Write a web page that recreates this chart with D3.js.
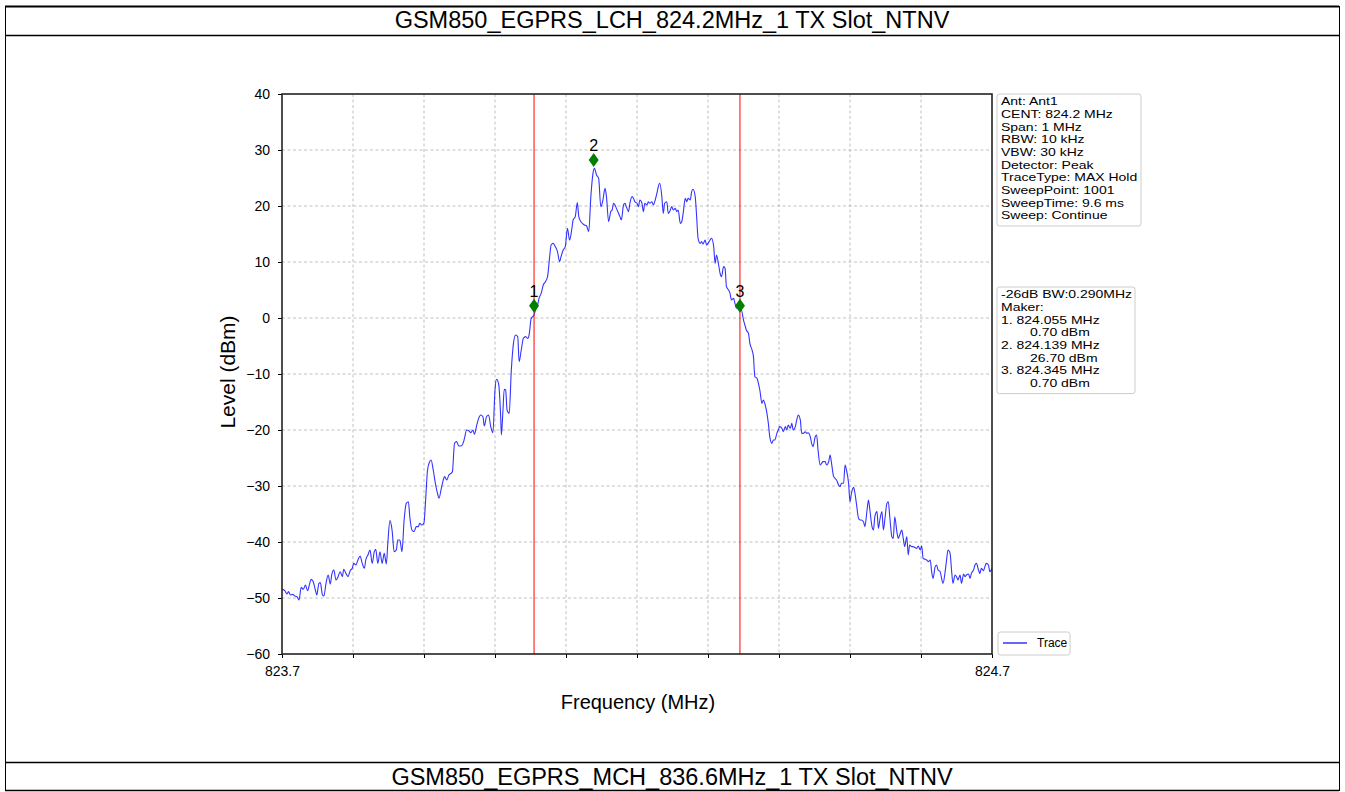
<!DOCTYPE html>
<html>
<head>
<meta charset="utf-8">
<script src="https://cdn.jsdelivr.net/npm/d3@7"></script>
<style>
  html, body { margin: 0; padding: 0; background: #fff; }
  svg { display: block; font-family: "Liberation Sans", Arial, sans-serif; }
</style>
</head>
<body>
<svg id="chart" width="1345" height="792"></svg>
<script>
// ---------------- DATA ----------------
const titleTop = "GSM850_EGPRS_LCH_824.2MHz_1 TX Slot_NTNV";
const titleBottom = "GSM850_EGPRS_MCH_836.6MHz_1 TX Slot_NTNV";

const xDomain = [823.7, 824.7];
const yDomain = [-60, 40];
const xTicks = [823.7, 823.8, 823.9, 824.0, 824.1, 824.2, 824.3, 824.4, 824.5, 824.6, 824.7];
const xTickLabels = ["823.7", "", "", "", "", "", "", "", "", "", "824.7"];
const yTicks = [-60, -50, -40, -30, -20, -10, 0, 10, 20, 30, 40];

const traceFreq = [
823.700,823.704,823.707,823.709,823.712,823.715,823.718,823.721,823.724,823.727,
823.730,823.733,823.736,823.739,823.741,823.744,823.747,823.749,823.752,823.754,
823.757,823.759,823.762,823.765,823.768,823.770,823.773,823.776,823.779,823.782,
823.785,823.787,823.790,823.793,823.796,823.799,823.801,823.804,823.807,823.810,
823.813,823.816,823.818,823.821,823.824,823.827,823.830,823.832,823.835,823.838,
823.841,823.844,823.847,823.849,823.852,823.855,823.858,823.861,823.863,823.866,
823.869,823.872,823.875,823.878,823.880,823.883,823.886,823.889,823.892,823.894,
823.897,823.900,823.902,823.905,823.908,823.910,823.913,823.916,823.919,823.921,
823.924,823.926,823.929,823.932,823.935,823.938,823.940,823.943,823.946,823.949,
823.952,823.955,823.957,823.960,823.963,823.966,823.969,823.971,823.974,823.977,
823.980,823.983,823.985,823.988,823.991,823.994,823.997,824.000,824.002,824.005,
824.008,824.009,824.011,824.013,824.015,824.017,824.020,824.023,824.026,824.029,
824.032,824.034,824.037,824.040,824.043,824.046,824.048,824.051,824.055,824.057,
824.060,824.062,824.065,824.068,824.071,824.074,824.077,824.079,824.082,824.085,
824.088,824.091,824.093,824.096,824.099,824.102,824.105,824.108,824.110,824.113,
824.116,824.118,824.121,824.124,824.126,824.129,824.132,824.135,824.138,824.140,
824.143,824.146,824.149,824.152,824.155,824.157,824.160,824.163,824.165,
824.167,824.169,824.171,824.174,824.176,824.178,824.181,824.183,824.185,824.188,
824.190,824.193,824.195,824.197,824.200,824.202,824.204,824.207,824.209,824.211,
824.214,824.216,824.218,824.221,824.223,824.225,824.228,824.230,824.232,824.235,
824.237,824.239,824.242,824.244,824.246,824.249,824.251,824.254,824.256,824.258,
824.261,824.263,824.265,824.268,824.270,824.272,824.275,824.277,824.279,824.282,
824.284,824.286,824.289,824.291,824.293,824.296,824.298,824.300,824.303,824.305,
824.308,824.310,824.312,824.315,824.317,824.319,824.322,824.324,824.326,824.329,
824.331,824.333,824.336,824.338,824.340,824.343,824.345,824.347,824.350,824.352,
824.354,824.357,824.359,824.362,824.364,824.366,824.369,824.371,824.373,824.376,
824.378,824.380,824.383,824.385,824.387,824.390,824.392,824.394,824.397,824.399,
824.401,824.404,824.406,824.409,824.411,824.413,824.416,824.418,824.420,824.423,
824.425,824.427,824.430,824.432,824.434,824.437,824.439,824.441,824.444,824.446,
824.448,824.451,824.453,824.455,824.458,824.460,824.462,824.465,824.467,824.470,
824.472,824.474,824.477,824.479,824.481,824.484,824.486,824.488,824.491,824.493,
824.495,824.498,824.500,824.502,824.505,824.507,824.509,824.512,824.514,824.516,
824.519,824.521,824.524,824.526,824.528,824.531,824.533,824.535,824.538,824.540,
824.542,824.545,824.547,824.549,824.552,824.554,824.556,824.559,824.561,824.563,
824.566,824.568,824.570,824.573,824.575,824.577,824.580,824.582,824.584,824.587,
824.589,824.591,824.594,824.596,824.599,824.601,824.603,824.606,824.608,824.610,
824.613,824.615,824.617,824.620,824.622,824.624,824.627,824.629,824.631,824.634,
824.636,824.638,824.641,824.643,824.645,824.648,824.650,824.652,824.655,824.657,
824.660,824.662,824.664,824.667,824.669,824.671,824.674,824.676,824.678,824.681,
824.683,824.685,824.688,824.690,824.692,824.695,824.697,824.700
];

const traceLevel = [
-48.45,-48.69,-49.29,-48.87,-49.46,-49.35,-49.64,-49.76,-50.36,-48.10,
-48.45,-47.68,-48.69,-47.38,-46.67,-47.08,-48.57,-49.46,-47.38,-47.26,
-49.46,-49.64,-47.38,-45.89,-47.50,-45.89,-45.00,-46.79,-46.19,-45.30,
-46.19,-44.88,-45.60,-46.19,-45.12,-44.70,-43.81,-44.11,-43.21,-42.50,
-43.81,-44.70,-43.21,-42.32,-41.43,-43.81,-41.73,-41.31,-43.81,-41.73,
-43.81,-42.02,-43.93,-40.24,-36.19,-37.86,-41.73,-41.43,-39.64,-39.64,
-41.73,-36.07,-33.10,-32.80,-35.48,-37.86,-38.15,-37.26,-37.26,-36.67,
-36.96,-36.55,-33.10,-27.14,-25.65,-25.36,-27.14,-29.52,-31.31,-32.20,
-30.71,-29.52,-28.33,-28.93,-28.04,-27.74,-27.44,-22.38,-22.08,-22.86,
-22.86,-22.38,-21.49,-20.00,-20.12,-20.48,-20.00,-20.77,-19.29,-17.92,
-17.32,-17.62,-19.29,-17.62,-17.32,-19.40,-20.48,-12.86,-10.95,-11.67,
-17.62,-20.89,-17.02,-12.74,-12.86,-16.43,-17.02,-9.29,-4.52,-3.04,
-3.33,-7.80,-5.71,-3.63,-3.33,-3.63,-3.04,-0.06,0.54,1.43,
2.32,3.51,4.40,5.89,6.49,7.38,10.95,13.04,13.33,12.74,
11.85,10.06,10.95,12.14,12.74,16.01,13.93,15.71,17.50,18.10,
20.60,18.10,17.20,16.79,16.61,16.43,15.42,21.67,25.83,26.73,
25.54,24.94,19.88,21.07,23.15,21.67,17.20,18.99,19.29,
20.48,20.18,19.58,18.69,18.10,17.50,20.18,20.48,19.88,18.99,
20.48,21.67,21.37,20.77,20.48,19.88,21.07,20.48,18.99,20.48,
20.18,20.77,20.48,20.77,20.18,20.77,22.26,23.45,24.05,21.67,
18.69,20.48,20.77,18.69,18.99,19.88,19.29,19.58,18.99,19.29,
16.90,17.20,18.69,21.37,20.77,21.37,21.07,22.56,22.98,21.67,
18.10,14.23,13.33,13.63,13.21,13.93,13.04,13.33,13.93,14.23,
12.74,9.76,11.25,9.46,7.98,7.38,9.17,8.87,5.60,5.00,
4.40,3.21,3.51,2.62,1.73,2.02,1.43,1.43,-0.36,-1.25,
-2.14,-2.74,-4.52,-5.71,-6.90,-10.48,-10.77,-11.67,-12.86,-15.24,
-14.64,-15.24,-17.02,-18.81,-21.19,-22.38,-21.79,-21.79,-20.60,-20.00,
-19.40,-19.70,-20.30,-19.40,-20.00,-19.11,-19.70,-18.81,-20.00,-19.40,
-18.21,-17.32,-18.21,-20.60,-20.60,-20.30,-20.60,-20.48,-21.19,-22.38,
-22.98,-21.19,-20.89,-23.57,-26.25,-25.95,-25.65,-25.65,-26.25,-25.65,
-24.46,-25.95,-28.33,-28.63,-28.93,-29.82,-30.12,-29.52,-29.52,-26.25,
-27.14,-29.52,-32.80,-31.31,-30.24,-31.31,-33.10,-35.77,-36.07,-36.07,
-36.37,-37.26,-34.29,-32.50,-34.29,-37.26,-37.86,-35.48,-34.58,-37.56,
-36.07,-34.58,-37.86,-36.07,-33.10,-32.80,-35.48,-39.05,-39.35,-35.48,
-38.15,-39.35,-38.75,-37.86,-39.35,-40.83,-39.05,-42.32,-40.54,-40.83,
-40.83,-40.95,-41.13,-40.71,-41.43,-40.71,-42.92,-43.10,-43.21,-43.51,
-43.21,-45.30,-46.49,-44.40,-44.11,-45.00,-45.30,-46.49,-47.38,-45.30,
-43.21,-41.43,-42.02,-45.00,-47.38,-45.89,-46.19,-46.79,-45.89,-47.38,
-45.71,-46.19,-45.89,-45.71,-46.49,-45.60,-45.00,-44.11,-43.81,-45.00,
-45.60,-44.70,-45.12,-44.40,-43.81,-44.11,-45.30,-44.70
];

const markerNames = ["1", "2", "3"];
const markerFreq = [824.055, 824.139, 824.345];
const markerLevel = [0.70, 26.70, 0.70];
const lineFreq = [824.055, 824.345];

const infoLines = [
  "Ant: Ant1", "CENT: 824.2 MHz", "Span: 1 MHz", "RBW: 10 kHz", "VBW: 30 kHz",
  "Detector: Peak", "TraceType: MAX Hold", "SweepPoint: 1001", "SweepTime: 9.6 ms", "Sweep: Continue"
];
const markerInfoLines = [
  "-26dB BW:0.290MHz", "Maker:", "1. 824.055 MHz", "    0.70 dBm",
  "2. 824.139 MHz", "    26.70 dBm", "3. 824.345 MHz", "    0.70 dBm"
];
const legendLabel = "Trace";
const xLabel = "Frequency (MHz)";
const yLabel = "Level (dBm)";

// ---------------- DRAW ----------------
const svg = d3.select("#chart");

// page frame
const frame = svg.append("g").attr("stroke", "#000").attr("fill", "none");
frame.append("line").attr("x1", 5).attr("x2", 1339).attr("y1", 6.5).attr("y2", 6.5).attr("stroke-width", 2);
frame.append("line").attr("x1", 5).attr("x2", 1339).attr("y1", 35.5).attr("y2", 35.5).attr("stroke-width", 1.5);
frame.append("line").attr("x1", 5).attr("x2", 1339).attr("y1", 762.5).attr("y2", 762.5).attr("stroke-width", 1.5);
frame.append("line").attr("x1", 5).attr("x2", 1339).attr("y1", 790.5).attr("y2", 790.5).attr("stroke-width", 1.5);
frame.append("line").attr("x1", 5.5).attr("x2", 5.5).attr("y1", 6).attr("y2", 791).attr("stroke-width", 1);
frame.append("line").attr("x1", 1339.5).attr("x2", 1339.5).attr("y1", 6).attr("y2", 791).attr("stroke-width", 1);

svg.append("text").attr("x", 672).attr("y", 28).attr("text-anchor", "middle")
  .attr("font-size", 23.5).attr("fill", "#000").text(titleTop);
svg.append("text").attr("x", 672).attr("y", 785).attr("text-anchor", "middle")
  .attr("font-size", 23.5).attr("fill", "#000").text(titleBottom);

const pLeft = 282, pRight = 992, pTop = 94, pBottom = 654;
const x = d3.scaleLinear().domain(xDomain).range([pLeft, pRight]);
const y = d3.scaleLinear().domain(yDomain).range([pBottom, pTop]);

// grid
const grid = svg.append("g").attr("stroke", "#b0b0b0").attr("stroke-width", 0.8)
  .attr("stroke-dasharray", "3,2.5");
grid.selectAll("line.gx").data(xTicks.slice(1, -1)).enter().append("line")
  .attr("x1", d => x(d)).attr("x2", d => x(d)).attr("y1", pTop).attr("y2", pBottom);
grid.selectAll("line.gy").data(yTicks.slice(1, -1)).enter().append("line")
  .attr("x1", pLeft).attr("x2", pRight).attr("y1", d => y(d)).attr("y2", d => y(d));

// trace
const pts = traceFreq.map((f, i) => [f, traceLevel[i]]);
svg.append("defs").append("clipPath").attr("id", "clip").append("rect")
  .attr("x", pLeft).attr("y", pTop).attr("width", pRight - pLeft).attr("height", pBottom - pTop);
svg.append("path").datum(pts).attr("clip-path", "url(#clip)")
  .attr("fill", "none").attr("stroke", "#0000ff").attr("stroke-opacity", 0.8).attr("stroke-width", 1.1)
  .attr("d", d3.line().x(d => x(d[0])).y(d => y(d[1])).curve(d3.curveMonotoneX));

// red marker lines
svg.selectAll("line.red").data(lineFreq).enter().append("line")
  .attr("x1", d => x(d)).attr("x2", d => x(d)).attr("y1", pTop).attr("y2", pBottom)
  .attr("stroke", "#ff0000").attr("stroke-width", 1);

// axes
const xAxis = d3.axisBottom(x).tickValues(xTicks).tickSize(4).tickPadding(6)
  .tickFormat((d, i) => xTickLabels[i]);
const gx = svg.append("g").attr("transform", `translate(0,${pBottom})`).call(xAxis);
const yAxis = d3.axisLeft(y).tickValues(yTicks).tickSize(4).tickPadding(8).tickFormat(d3.format("d"));
const gy = svg.append("g").attr("transform", `translate(${pLeft},0)`).call(yAxis);
[gx, gy].forEach(g => {
  g.select(".domain").remove();
  g.selectAll(".tick line").attr("stroke", "#000").attr("stroke-width", 1);
  g.selectAll(".tick text").attr("font-size", 14).attr("fill", "#000")
    .attr("font-family", "'Liberation Sans', Arial, sans-serif");
});
gx.selectAll(".tick text").attr("dy", "0.85em");
gy.selectAll(".tick text").attr("dy", "0.35em");

// spines
svg.append("rect").attr("x", pLeft).attr("y", pTop).attr("width", pRight - pLeft).attr("height", pBottom - pTop)
  .attr("fill", "none").attr("stroke", "#222").attr("stroke-width", 1.6);

// axis labels
svg.append("text").attr("x", 638).attr("y", 709).attr("text-anchor", "middle")
  .attr("font-size", 20).attr("fill", "#000").text(xLabel);
svg.append("text").attr("transform", `translate(235,${(pTop + pBottom) / 2 - 2}) rotate(-90)`)
  .attr("text-anchor", "middle").attr("font-size", 21).attr("fill", "#000").text(yLabel);

// markers (drawn 1.5 dB above the read level, as the analyser plot does)
const markerLift = 1.5;
const mk = svg.append("g");
markerFreq.forEach((f, i) => {
  const cx = x(f), cy = y(markerLevel[i] + markerLift);
  mk.append("path").attr("d", `M${cx},${cy - 7}L${cx + 5},${cy}L${cx},${cy + 7}L${cx - 5},${cy}Z`)
    .attr("fill", "#008000");
  mk.append("text").attr("x", cx).attr("y", cy - 9).attr("text-anchor", "middle")
    .attr("font-size", 16).attr("fill", "#000").text(markerNames[i]);
});

// info boxes (tight line spacing as in the reference; glyphs slightly compressed vertically)
function infoBox(x0, y0, w, lines, lh, indentX) {
  const h = lines.length * lh + 5;
  svg.append("rect").attr("x", x0).attr("y", y0).attr("width", w).attr("height", h)
    .attr("rx", 2.5).attr("fill", "#fff").attr("stroke", "#cccccc").attr("stroke-width", 1);
  const sy = 0.8;
  const g = svg.append("g").attr("transform", `translate(${x0},${y0}) scale(1,${sy})`);
  lines.forEach((s, i) => {
    const indented = s.startsWith("    ");
    g.append("text").attr("font-size", 14).attr("fill", "#000")
      .attr("x", indented ? indentX : 4).attr("y", (11.2 + i * lh) / sy)
      .text(s.trim());
  });
}
infoBox(997, 94, 144, infoLines, 12.7, 4);
infoBox(997, 287, 138, markerInfoLines, 12.7, 33);

// legend
svg.append("rect").attr("x", 998).attr("y", 632).attr("width", 72).attr("height", 23).attr("rx", 2.5)
  .attr("fill", "#fff").attr("stroke", "#cccccc");
svg.append("line").attr("x1", 1003).attr("x2", 1027).attr("y1", 643).attr("y2", 643)
  .attr("stroke", "#0000ff").attr("stroke-width", 1.2);
svg.append("text").attr("x", 1037).attr("y", 647).attr("font-size", 12).attr("fill", "#000").text(legendLabel);
</script>
</body>
</html>
